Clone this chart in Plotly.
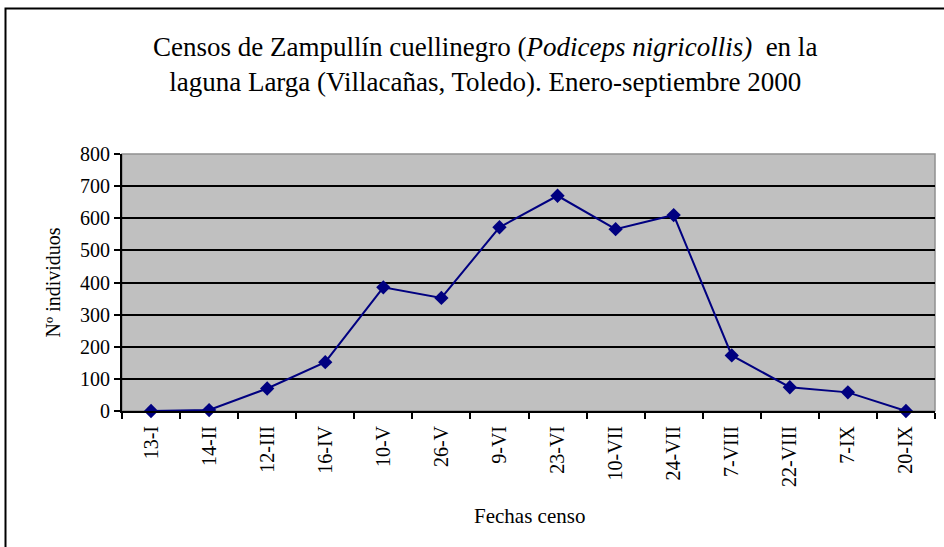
import plotly.graph_objects as go

fechas = ["13-I", "14-II", "12-III", "16-IV", "10-V", "26-V", "9-VI", "23-VI",
          "10-VII", "24-VII", "7-VIII", "22-VIII", "7-IX", "20-IX"]
individuos = [0, 3, 70, 152, 385, 352, 572, 670, 566, 610, 173, 74, 58, 0]
y_ticks = [0, 100, 200, 300, 400, 500, 600, 700, 800]

W, H = 944, 547
L, R, T, B = 122, 9, 154, 136
pw, ph = W - L - R, H - T - B

def px(x):
    return (x - L) / pw

def py(y):
    return (H - B - y) / ph

serif = "Liberation Serif"

fig = go.Figure()
fig.add_trace(go.Scatter(
    x=fechas, y=individuos, mode="lines+markers",
    line=dict(color="#000080", width=2),
    marker=dict(symbol="diamond", size=11, color="#000080"),
    showlegend=False, cliponaxis=False,
))

fig.update_layout(
    width=W, height=H,
    margin=dict(l=L, r=R, t=T, b=B),
    paper_bgcolor="white",
    plot_bgcolor="#C0C0C0",
    font=dict(family=serif, color="black", size=20),
    xaxis=dict(
        type="category", tickson="boundaries", ticks="outside", ticklen=6,
        tickwidth=1.5, tickcolor="black", tickangle=-90, showgrid=False,
        showline=True, linecolor="black", linewidth=2, ticklabelstandoff=5,
        tickfont=dict(family=serif, size=20), range=[-0.5, 13.5],
    ),
    yaxis=dict(
        range=[0, 800], tickvals=y_ticks, ticks="outside", ticklen=6,
        tickwidth=1.5, tickcolor="black", showgrid=True, gridcolor="black",
        gridwidth=2, showline=True, linecolor="black", linewidth=2,
        tickfont=dict(family=serif, size=20), zeroline=False,
    ),
    shapes=[
        dict(type="rect", xref="paper", yref="paper", x0=0, x1=1, y0=0, y1=1,
             line=dict(color="#909090", width=1.5), layer="below"),
        dict(type="rect", xref="paper", yref="paper", x0=px(5.5), x1=px(960),
             y0=py(8.5), y1=py(580), line=dict(color="black", width=2)),
    ],
    annotations=[
        dict(text="Censos de Zampullín cuellinegro (<i>Podiceps nigricollis)</i>  en la<br>"
                  "laguna Larga (Villacañas, Toledo). Enero-septiembre 2000",
             xref="paper", yref="paper", x=px(485), y=py(65),
             xanchor="center", yanchor="middle", showarrow=False,
             font=dict(family=serif, size=27)),
        dict(text="Fechas censo", xref="paper", yref="paper", x=px(529), y=py(516),
             xanchor="center", yanchor="middle", showarrow=False,
             font=dict(family=serif, size=21)),
        dict(text="Nº individuos", xref="paper", yref="paper", x=px(52), y=0.5,
             xanchor="center", yanchor="middle", showarrow=False, textangle=-90,
             font=dict(family=serif, size=20)),
    ],
)

fig.write_html("out.html", config={"displayModeBar": False},
               post_script="document.body.style.margin='0';document.body.style.overflow='hidden';")
